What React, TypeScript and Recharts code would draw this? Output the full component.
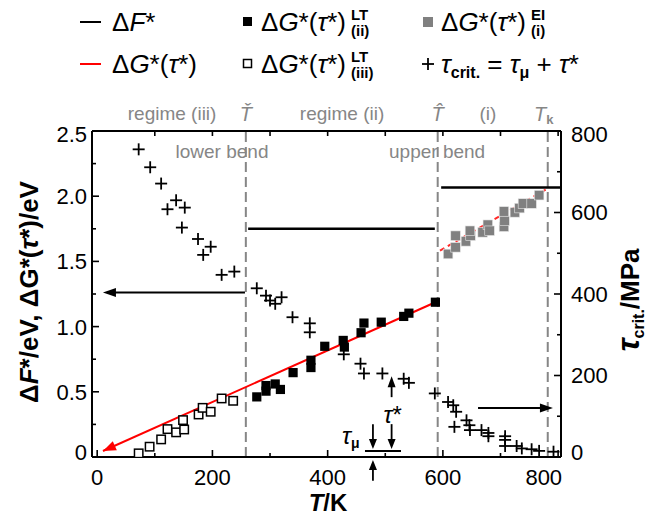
import React from 'react';
import {
  ComposedChart,
  Line,
  Scatter,
  XAxis,
  YAxis,
  ReferenceLine,
  ReferenceDot,
  Label,
} from 'recharts';

const FONT = '"Liberation Sans", Arial, Helvetica, sans-serif';
const GRAY = '#868686';

// ---------------- data ----------------
// regime (iii), low-temperature, open squares (left axis, eV)
const openT = [72, 91, 111, 122, 137, 149, 151, 176, 183, 197, 216, 236];
const openG = [0.028, 0.079, 0.135, 0.214, 0.189, 0.283, 0.211, 0.326, 0.377, 0.347, 0.449, 0.431];

// regime (ii), low-temperature, filled black squares
const filledT = [277, 293, 293, 309, 318, 340, 371, 371, 395, 427, 429, 458, 463, 493, 532, 541, 587];
const filledG = [0.461, 0.505, 0.548, 0.56, 0.518, 0.647, 0.742, 0.686, 0.849, 0.894, 0.843, 0.953, 1.027, 1.034, 1.078, 1.103, 1.187];

// regime (i), elevated temperature, gray squares
const grayT = [609, 622, 622, 640, 648, 647, 669, 678, 681, 706, 707, 706, 725, 733, 739, 754, 767];
const grayG = [1.557, 1.608, 1.697, 1.654, 1.697, 1.735, 1.723, 1.781, 1.735, 1.766, 1.812, 1.883, 1.876, 1.909, 1.944, 1.944, 2.008];

// critical resolved shear stress (right axis, MPa)
const tauT = [72, 92, 111, 137, 122, 152, 147, 175, 197, 184, 216, 238, 277, 293, 300, 309, 320, 339, 369, 369, 428, 457, 463, 495, 532, 541, 586, 609, 618, 623, 620, 641, 646, 647, 667, 679, 679, 708, 708, 708, 728, 737, 754, 767, 792];
const tauC = [755, 711, 671, 630, 608, 612, 563, 535, 516, 496, 447, 455, 414, 396, 384, 376, 392, 343, 328, 306, 252, 229, 205, 205, 192, 182, 156, 135, 127, 111, 74, 90, 78, 66, 66, 59, 51, 51, 42, 27, 27, 21, 19, 15, 13];

// fitted ΔG*(τ*) lines
const fitLowT = [10, 587];
const fitLowG = [0.046, 1.187];
const fitHighT = [595, 781];
const fitHighG = [1.583, 2.057];

// ΔF* levels
const dFiiT = [262, 586];
const dFiiV = [1.751, 1.751];
const dFiT = [597, 805];
const dFiV = [2.067, 2.067];

// characteristic temperatures: Ť, T̂, T_k
const charTemps = [258, 591, 782];

// ticks
const xTicks = [0, 100, 200, 300, 400, 500, 600, 700, 800];
const yTicks = [0, 0.25, 0.5, 0.75, 1, 1.25, 1.5, 1.75, 2, 2.25, 2.5];
const rTicks = [0, 100, 200, 300, 400, 500, 600, 700, 800];

const X_DOMAIN: [number, number] = [-9, 805];

const zip = (xs: number[], ys: number[]) => xs.map((T, i) => ({ T, v: ys[i] }));

const openData = zip(openT, openG);
const filledData = zip(filledT, filledG);
const grayData = zip(grayT, grayG);
const tauData = zip(tauT, tauC);
const fitLowData = zip(fitLowT, fitLowG);
const fitHighData = zip(fitHighT, fitHighG);
const dFiiData = zip(dFiiT, dFiiV);
const dFiData = zip(dFiT, dFiV);

// ---------------- ticks ----------------
const isMajor = (v: number, step: number) => Math.abs(v / step - Math.round(v / step)) < 1e-6;
const TICK_FS = 22;

const LeftTick = (p: any) => {
  const { x, y, payload } = p;
  const v = payload.value as number;
  const ax = x + 5;
  const major = isMajor(v, 0.5);
  let ly = y;
  if (v === 0) ly -= 5;
  if (v === 2.5) ly += 3;
  return (
    <g>
      <line x1={ax} x2={ax + (major ? 7 : 4)} y1={y} y2={y} stroke="#000" strokeWidth={1.6} />
      {major && (
        <text x={x} y={ly} dy={7.9} textAnchor="end" fontSize={TICK_FS} fill="#000" fontFamily={FONT}>
          {v === 0 ? '0' : v.toFixed(1)}
        </text>
      )}
    </g>
  );
};

const RightTick = (p: any) => {
  const { x, y, payload } = p;
  const v = payload.value as number;
  const ax = x - 10;
  const major = isMajor(v, 200);
  let ly = y;
  if (v === 0) ly -= 5;
  if (v === 800) ly += 3;
  return (
    <g>
      <line x1={ax} x2={ax - (major ? 7 : 4)} y1={y} y2={y} stroke="#000" strokeWidth={1.6} />
      {major && (
        <text x={x} y={ly} dy={7.9} textAnchor="start" fontSize={TICK_FS} fill="#000" fontFamily={FONT}>
          {String(v)}
        </text>
      )}
    </g>
  );
};

const BottomTick = (p: any) => {
  const { x, y, payload } = p;
  const v = payload.value as number;
  const ay = y;
  const major = isMajor(v, 200);
  const last = v === 800;
  return (
    <g>
      <line x1={x} x2={x} y1={ay} y2={ay - (major ? 7 : 4)} stroke="#000" strokeWidth={1.6} />
      {major && (
        <text x={last ? x + 4 : x} y={ay + 28} textAnchor={last ? 'end' : 'middle'} fontSize={TICK_FS} fill="#000" fontFamily={FONT}>
          {String(v)}
        </text>
      )}
    </g>
  );
};

const TopTick = (p: any) => {
  const { x, y, payload } = p;
  if (payload.value === 0) return <g />;
  return <line x1={x} x2={x} y1={y} y2={y + 5} stroke="#000" strokeWidth={1.6} />;
};

// ---------------- marker shapes ----------------
const OpenSquare = (p: any) => (
  <rect x={p.cx - 4.2} y={p.cy - 4.2} width={8.4} height={8.4} fill="#fff" stroke="#000" strokeWidth={1.5} />
);
const FilledSquare = (p: any) => (
  <rect x={p.cx - 4.6} y={p.cy - 4.6} width={9.2} height={9.2} fill="#000" />
);
const GraySquare = (p: any) => (
  <rect x={p.cx - 4.8} y={p.cy - 4.8} width={9.6} height={9.6} fill="#808080" stroke="#e8e8e8" strokeWidth={0.6} />
);
const Cross = (p: any) => (
  <g stroke="#000" strokeWidth={1.8}>
    <line x1={p.cx - 6} x2={p.cx + 6} y1={p.cy} y2={p.cy} />
    <line x1={p.cx} x2={p.cx} y1={p.cy - 6} y2={p.cy + 6} />
  </g>
);

// arrow drawn between the two segment ends (head at second point)
const arrowShape = (color: string, width: number, drawLine: boolean, head = 11, half = 4.5) => (p: any) => {
  const { x1, y1, x2, y2 } = p;
  const dx = x2 - x1;
  const dy = y2 - y1;
  const L = Math.hypot(dx, dy) || 1;
  const ux = dx / L;
  const uy = dy / L;
  const bx = x2 - ux * head;
  const by = y2 - uy * head;
  const px = -uy * half;
  const py = ux * half;
  return (
    <g>
      {drawLine && <line x1={x1} y1={y1} x2={bx + ux} y2={by + uy} stroke={color} strokeWidth={width} />}
      <polygon points={`${x2},${y2} ${bx + px},${by + py} ${bx - px},${by - py}`} fill={color} />
    </g>
  );
};

const textShape = (content: React.ReactNode, size = 19, fill = GRAY, anchor: any = 'middle') => (p: any) => (
  <text x={p.cx} y={p.cy} textAnchor={anchor} fontSize={size} fill={fill} fontFamily={FONT}>
    {content}
  </text>
);

const accentT = (glyph: string) => (p: any) => (
  <text x={p.cx} y={p.cy} textAnchor="middle" fontSize={20} fontStyle="italic" fill={GRAY} fontFamily={FONT}>
    {glyph}
  </text>
);

const tkShape = (p: any) => (
  <text x={p.cx - 4} y={p.cy} textAnchor="middle" fontSize={20} fill={GRAY} fontFamily={FONT}>
    <tspan fontStyle="italic">T</tspan>
    <tspan fontSize={13} fontWeight="bold" dy={3}>k</tspan>
  </text>
);

// ---------------- legend (overlay) ----------------
const LegendBox = () => (
  <svg width={651} height={95} style={{ position: 'absolute', left: 0, top: 0, pointerEvents: 'none' }} fontFamily={FONT} fontSize={26}>
    {/* row 1 */}
    <line x1={80} x2={101} y1={22} y2={22} stroke="#000" strokeWidth={2} />
    <text x={112} y={31}>
      Δ<tspan fontStyle="italic">F</tspan>*
    </text>
    <rect x={243} y={17} width={9} height={9} fill="#000" />
    <text x={261} y={31}>
      Δ<tspan fontStyle="italic">G</tspan>*(<tspan fontStyle="italic">τ</tspan>*)
    </text>
    <text x={351} y={20} fontSize={15} fontWeight="bold">LT</text>
    <text x={351} y={36} fontSize={15} fontWeight="bold">(ii)</text>
    <rect x={423} y={17} width={10} height={10} fill="#808080" />
    <text x={441} y={31}>
      Δ<tspan fontStyle="italic">G</tspan>*(<tspan fontStyle="italic">τ</tspan>*)
    </text>
    <text x={531} y={20} fontSize={15} fontWeight="bold">EI</text>
    <text x={531} y={36} fontSize={15} fontWeight="bold">(i)</text>

    {/* row 2 */}
    <line x1={80} x2={101} y1={64} y2={64} stroke="#ff0000" strokeWidth={2} />
    <text x={112} y={73}>
      Δ<tspan fontStyle="italic">G</tspan>*(<tspan fontStyle="italic">τ</tspan>*)
    </text>
    <rect x={243.5} y={59.5} width={8} height={8} fill="#fff" stroke="#000" strokeWidth={1.5} />
    <text x={261} y={73}>
      Δ<tspan fontStyle="italic">G</tspan>*(<tspan fontStyle="italic">τ</tspan>*)
    </text>
    <text x={351} y={62} fontSize={15} fontWeight="bold">LT</text>
    <text x={351} y={78} fontSize={15} fontWeight="bold">(iii)</text>
    <g stroke="#000" strokeWidth={1.8}>
      <line x1={422} x2={434} y1={64} y2={64} />
      <line x1={428} x2={428} y1={58} y2={70} />
    </g>
    <text x={441} y={73}>
      <tspan fontStyle="italic">τ</tspan>
      <tspan fontSize={16} fontWeight="bold" dy={5}>crit.</tspan>
      <tspan dy={-5}> = </tspan>
      <tspan fontStyle="italic">τ</tspan>
      <tspan fontSize={16} fontWeight="bold" dy={5}>μ</tspan>
      <tspan dy={-5}> + </tspan>
      <tspan fontStyle="italic">τ</tspan>*
    </text>
  </svg>
);

// ---------------- chart ----------------
export default function App() {
  return (
    <div style={{ position: 'absolute', left: 0, top: 0, width: 651, height: 515, background: '#fff' }}>
      <ComposedChart
        width={651}
        height={515}
        margin={{ top: 101, right: 40, bottom: 28, left: 32 }}
        style={{ fontFamily: FONT }}
      >
        <XAxis
          dataKey="T"
          type="number"
          domain={X_DOMAIN}
          allowDataOverflow
          ticks={xTicks}
          interval={0}
          tickSize={0}
          tickMargin={0}
          tickLine={false}
          tick={BottomTick}
          axisLine={{ stroke: '#000', strokeWidth: 2 }}
          height={30}
        >
          <Label
            content={() => (
              <text x={328} y={511} textAnchor="middle" fontSize={24} fontWeight="bold" fill="#000" fontFamily={FONT}>
                <tspan fontStyle="italic">T</tspan>/K
              </text>
            )}
          />
        </XAxis>
        <XAxis
          xAxisId="top"
          orientation="top"
          dataKey="T"
          type="number"
          domain={X_DOMAIN}
          allowDataOverflow
          ticks={xTicks}
          interval={0}
          tickSize={0}
          tickMargin={0}
          tickLine={false}
          tick={TopTick}
          axisLine={{ stroke: '#000', strokeWidth: 2 }}
          height={30}
        />
        <YAxis
          type="number"
          domain={[0, 2.5]}
          allowDataOverflow
          ticks={yTicks}
          interval={0}
          tickSize={0}
          tickMargin={5}
          tickLine={false}
          tick={LeftTick}
          axisLine={{ stroke: '#000', strokeWidth: 2 }}
          width={60}
        >
          <Label
            content={() => (
              <text
                transform="rotate(-90 38 292)"
                x={38}
                y={292}
                textAnchor="middle"
                fontSize={26}
                fontWeight="bold"
                fill="#000"
                fontFamily={FONT}
              >
                Δ<tspan fontStyle="italic">F</tspan>*/eV, ΔG*(<tspan fontStyle="italic">τ</tspan>*)/eV
              </text>
            )}
          />
        </YAxis>
        <YAxis
          yAxisId="right"
          orientation="right"
          type="number"
          domain={[0, 800]}
          allowDataOverflow
          ticks={rTicks}
          interval={0}
          tickSize={0}
          tickMargin={10}
          tickLine={false}
          tick={RightTick}
          axisLine={{ stroke: '#000', strokeWidth: 2 }}
          width={50}
        >
          <Label
            content={() => (
              <text
                transform="rotate(-90 639 300)"
                x={639}
                y={300}
                textAnchor="middle"
                fontSize={26}
                fontWeight="bold"
                fill="#000"
                fontFamily={FONT}
              >
                <tspan fontStyle="italic" fontSize={32}>τ</tspan>
                <tspan fontSize={16} dy={5}>crit.</tspan>
                <tspan dy={-5}>/MPa</tspan>
              </text>
            )}
          />
        </YAxis>

        {/* characteristic temperatures */}
        {charTemps.map((t) => (
          <ReferenceLine key={t} x={t} stroke={GRAY} strokeWidth={2} strokeDasharray="10 5" />
        ))}

        {/* ΔF* levels */}
        <Line data={dFiiData} dataKey="v" stroke="#000" strokeWidth={2.5} dot={false} isAnimationActive={false} />
        <Line data={dFiData} dataKey="v" stroke="#000" strokeWidth={2.5} dot={false} isAnimationActive={false} />

        {/* fitted ΔG*(τ*) */}
        <Line data={fitLowData} dataKey="v" stroke="#ff0000" strokeWidth={2} dot={false} isAnimationActive={false} />
        <Line
          data={fitHighData}
          dataKey="v"
          stroke="#ff2a2a"
          strokeWidth={2}
          strokeDasharray="5 4"
          dot={false}
          isAnimationActive={false}
        />
        <ReferenceLine
          segment={[
            { x: fitLowT[1], y: fitLowG[1] },
            { x: fitLowT[0], y: fitLowG[0] },
          ]}
          shape={arrowShape('#ff0000', 2, false, 13, 5)}
          ifOverflow="visible"
        />

        {/* data points */}
        <Scatter data={openData} dataKey="v" shape={OpenSquare} isAnimationActive={false} />
        <Scatter data={filledData} dataKey="v" shape={FilledSquare} isAnimationActive={false} />
        <Scatter data={grayData} dataKey="v" shape={GraySquare} isAnimationActive={false} />
        <Scatter data={tauData} dataKey="v" yAxisId="right" shape={Cross} isAnimationActive={false} />

        {/* axis-pointer arrows */}
        <ReferenceLine
          segment={[
            { x: 256.5, y: 1.261 },
            { x: 10, y: 1.261 },
          ]}
          shape={arrowShape('#000', 2, true, 13, 4.5)}
          ifOverflow="visible"
        />
        <ReferenceLine
          segment={[
            { x: 661, y: 0.375 },
            { x: 791, y: 0.375 },
          ]}
          shape={arrowShape('#000', 2, true, 13, 4.5)}
          ifOverflow="visible"
        />

        {/* τ* / τμ annotation */}
        <ReferenceLine
          segment={[
            { x: 511, y: 0.459 },
            { x: 511, y: 0.62 },
          ]}
          shape={arrowShape('#000', 1.8, true, 11, 4)}
          ifOverflow="visible"
        />
        <ReferenceLine
          segment={[
            { x: 478.6, y: 0.252 },
            { x: 478.6, y: 0.061 },
          ]}
          shape={arrowShape('#000', 1.8, true, 10, 4)}
          ifOverflow="visible"
        />
        <ReferenceLine
          segment={[
            { x: 511, y: 0.252 },
            { x: 511, y: 0.061 },
          ]}
          shape={arrowShape('#000', 1.8, true, 10, 4)}
          ifOverflow="visible"
        />
        <ReferenceLine
          segment={[
            { x: 464.8, y: 0.046 },
            { x: 527.3, y: 0.046 },
          ]}
          stroke="#000"
          strokeWidth={1.8}
          ifOverflow="visible"
        />
        <ReferenceLine
          segment={[
            { x: 478.6, y: -0.183 },
            { x: 478.6, y: -0.023 },
          ]}
          shape={arrowShape('#000', 1.8, true, 10, 4)}
          ifOverflow="visible"
        />
        <ReferenceDot
          x={513}
          y={0.262}
          ifOverflow="visible"
          shape={textShape(
            <>
              <tspan fontStyle="italic">τ</tspan>*
            </>,
            24,
            '#000'
          )}
        />
        <ReferenceDot
          x={440}
          y={0.099}
          ifOverflow="visible"
          shape={textShape(
            <>
              <tspan fontStyle="italic">τ</tspan>
              <tspan fontSize={14} fontWeight="bold" dy={4}>μ</tspan>
            </>,
            24,
            '#000'
          )}
        />

        {/* region / bend labels */}
        <ReferenceDot x={216.6} y={2.294} ifOverflow="visible" shape={textShape('lower bend')} />
        <ReferenceDot x={590} y={2.294} ifOverflow="visible" shape={textShape('upper bend')} />
        <ReferenceDot x={130} y={2.584} ifOverflow="visible" shape={textShape('regime (iii)')} />
        <ReferenceDot x={425} y={2.584} ifOverflow="visible" shape={textShape('regime (ii)')} />
        <ReferenceDot x={678} y={2.584} ifOverflow="visible" shape={textShape('(i)')} />
        <ReferenceDot x={charTemps[0]} y={2.575} ifOverflow="visible" shape={accentT('Ť')} />
        <ReferenceDot x={charTemps[1]} y={2.575} ifOverflow="visible" shape={accentT('T\u0302')} />
        <ReferenceDot x={charTemps[2]} y={2.575} ifOverflow="visible" shape={tkShape} />
      </ComposedChart>
      <LegendBox />
    </div>
  );
}
